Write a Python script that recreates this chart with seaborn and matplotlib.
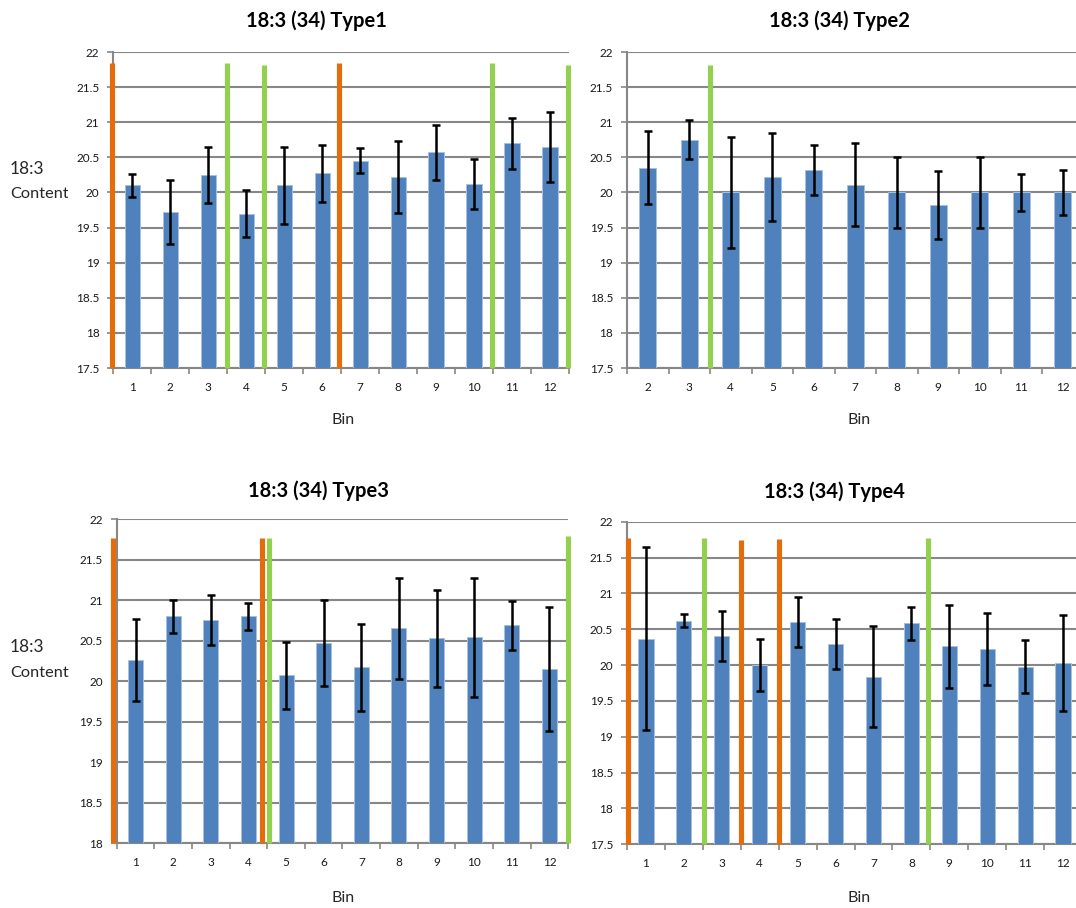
import numpy as np
import pandas as pd
import matplotlib
matplotlib.use("Agg")
import matplotlib.pyplot as plt
from matplotlib.transforms import Bbox, TransformedBbox
import seaborn as sns

# ---- data -------------------------------------------------------------
bins_1 = [1, 2, 3, 4, 5, 6, 7, 8, 9, 10, 11, 12]
mean_1 = [20.10, 19.72, 20.25, 19.70, 20.10, 20.27, 20.45, 20.22, 20.57, 20.12, 20.70, 20.65]
sd_1 = [0.16, 0.46, 0.40, 0.33, 0.55, 0.41, 0.18, 0.51, 0.39, 0.36, 0.36, 0.50]

bins_2 = [2, 3, 4, 5, 6, 7, 8, 9, 10, 11, 12]
mean_2 = [20.35, 20.75, 20.00, 20.22, 20.32, 20.11, 20.00, 19.82, 20.00, 20.00, 20.00]
sd_2 = [0.52, 0.28, 0.79, 0.62, 0.35, 0.59, 0.50, 0.48, 0.50, 0.26, 0.32]

bins_3 = [1, 2, 3, 4, 5, 6, 7, 8, 9, 10, 11, 12]
mean_3 = [20.26, 20.80, 20.75, 20.80, 20.07, 20.47, 20.17, 20.65, 20.53, 20.54, 20.69, 20.15]
sd_3 = [0.51, 0.20, 0.31, 0.17, 0.41, 0.53, 0.54, 0.62, 0.60, 0.73, 0.30, 0.76]

bins_4 = [1, 2, 3, 4, 5, 6, 7, 8, 9, 10, 11, 12]
mean_4 = [20.37, 20.62, 20.40, 20.00, 20.60, 20.29, 19.84, 20.58, 20.26, 20.22, 19.98, 20.03]
sd_4 = [1.28, 0.09, 0.35, 0.36, 0.35, 0.35, 0.70, 0.23, 0.58, 0.50, 0.37, 0.67]

# marker lines between bins (bin position, top value, kind)
mark_pos_1 = [0.46, 3.49, 4.48, 6.45, 10.47, 12.47]
mark_top_1 = [21.84, 21.85, 21.82, 21.85, 21.84, 21.82]
mark_kind_1 = ["o", "g", "g", "o", "g", "g"]

mark_pos_2 = [3.5]
mark_top_2 = [21.82]
mark_kind_2 = ["g"]

mark_pos_3 = [0.41, 4.37, 4.55, 12.48]
mark_top_3 = [21.76, 21.76, 21.76, 21.79]
mark_kind_3 = ["o", "o", "g", "g"]

mark_pos_4 = [0.53, 2.53, 3.51, 4.50, 8.44]
mark_top_4 = [21.77, 21.77, 21.74, 21.76, 21.77]
mark_kind_4 = ["o", "g", "o", "o", "g"]

titles = ["18:3 (34) Type1", "18:3 (34) Type2", "18:3 (34) Type3", "18:3 (34) Type4"]
y_ranges = [(17.5, 22.0), (17.5, 22.0), (18.0, 22.0), (17.5, 22.0)]

# ---- style ------------------------------------------------------------
sns.set_style("white")
plt.rcParams["font.family"] = ["Lato", "DejaVu Sans"]

BAR = "#4f81bd"
BAR_EDGE = "#a9c1e0"
ORANGE = "#e46c0a"
GREEN = "#92d050"
GRID = "#878787"
KIND_COLOR = {"o": ORANGE, "g": GREEN}

W, H = 1076, 908
fig = plt.figure(figsize=(W / 100, H / 100), dpi=100)


def px_axes(left, right, top, bottom):
    return fig.add_axes([left / W, 1 - bottom / H, (right - left) / W, (bottom - top) / H])


axes = [
    px_axes(113.3, 569.0, 52.0, 368.0),
    px_axes(627.0, 1083.5, 52.0, 368.0),
    px_axes(116.7, 568.3, 519.0, 843.3),
    px_axes(627.0, 1082.0, 521.7, 844.3),
]

panels = [
    (bins_1, mean_1, sd_1, mark_pos_1, mark_top_1, mark_kind_1),
    (bins_2, mean_2, sd_2, mark_pos_2, mark_top_2, mark_kind_2),
    (bins_3, mean_3, sd_3, mark_pos_3, mark_top_3, mark_kind_3),
    (bins_4, mean_4, sd_4, mark_pos_4, mark_top_4, mark_kind_4),
]

for ax, (bins, mean, sd, mpos, mtop, mkind), (y0, y1) in zip(axes, panels, y_ranges):
    df = pd.DataFrame({"Bin": bins, "Content": mean, "sd": sd})
    sns.barplot(data=df, x="Bin", y="Content", native_scale=True, orient="x",
                width=0.4, color=BAR, saturation=1, errorbar=None,
                edgecolor=BAR_EDGE, linewidth=0.7, ax=ax, zorder=3)
    ax.errorbar(df["Bin"], df["Content"], yerr=df["sd"], fmt="none",
                ecolor="black", elinewidth=1.8, capsize=3.2, capthick=1.8, zorder=5)
    ax.vlines(mpos, y0, mtop, colors=[KIND_COLOR[k] for k in mkind],
              linewidth=3.7, zorder=4, clip_on=False)

    ax.set_ylim(y0, y1)
    ax.set_xlim(bins[0] - 0.5, bins[-1] + 0.5)
    ax.set_yticks(np.arange(y0, y1 + 0.01, 0.5))
    ax.set_yticklabels([f"{v:g}" for v in np.arange(y0, y1 + 0.01, 0.5)])
    ax.grid(axis="y", color=GRID, linewidth=1.5, zorder=0)
    ax.set_axisbelow(True)

    # ticks on bin boundaries, labels at bin centres
    ax.set_xticks(np.arange(bins[0] - 0.5, bins[-1] + 0.6, 1.0))
    ax.set_xticklabels([])
    ax.set_xticks(bins, minor=True)
    ax.set_xticklabels([str(b) for b in bins], minor=True)
    ax.tick_params(axis="x", which="major", direction="out", length=4,
                   width=1.2, color=GRID, bottom=True)
    ax.tick_params(axis="x", which="minor", length=0, pad=10, labelsize=8.5,
                   labelcolor="#1a1a1a")
    ax.tick_params(axis="y", direction="out", length=4, width=1.2, color=GRID,
                   left=True, pad=6, labelsize=8.5, labelcolor="#1a1a1a")

    for side in ("top", "right"):
        ax.spines[side].set_visible(False)
    for side in ("left", "bottom"):
        ax.spines[side].set_color(GRID)
        ax.spines[side].set_linewidth(1.5)
    ax.set_xlabel("")
    ax.set_ylabel("")

# titles
title_xy = [(316, 21), (839, 21), (318, 491), (834, 492)]
for t, (x, y) in zip(titles, title_xy):
    fig.text(x / W, 1 - y / H, t, ha="center", va="center",
             fontsize=14.5, fontweight="bold", color="black")

# axis labels
for x, y in [(343, 420), (859, 420), (343, 898), (859, 898)]:
    fig.text(x / W, 1 - y / H, "Bin", ha="center", va="center", fontsize=11.5)

clip_box = TransformedBbox(Bbox([[0, 0], [67.5 / W, 1]]), fig.transFigure)
for y_a, y_b, clip in [(169, 194, True), (647, 673, False)]:
    fig.text(10 / W, 1 - y_a / H, "18:3", ha="left", va="center", fontsize=12.5)
    tc = fig.text(10 / W, 1 - y_b / H, "Content", ha="left", va="center", fontsize=11.8)
    if clip:
        tc.set_clip_box(clip_box)
        tc.set_clip_on(True)

fig.savefig("out.png", dpi=100)
